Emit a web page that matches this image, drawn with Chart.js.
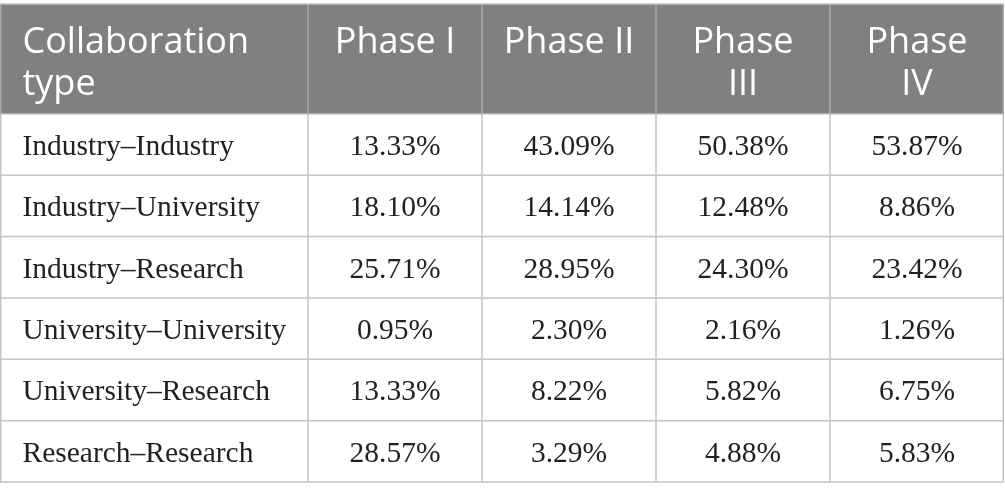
<!DOCTYPE html>
<html>
<head>
<meta charset="utf-8">
<script src="https://cdn.jsdelivr.net/npm/chart.js@4"></script>
<style>
  html, body { margin: 0; padding: 0; background: #fff; }
  canvas { display: block; }
</style>
</head>
<body>
<canvas id="tableChart" width="1005" height="501"></canvas>
<script>
const headers = [["Collaboration", "type"], ["Phase I"], ["Phase II"], ["Phase", "III"], ["Phase", "IV"]];
const collabTypes = [
  "Industry–Industry",
  "Industry–University",
  "Industry–Research",
  "University–University",
  "University–Research",
  "Research–Research"
];
const phase1 = [13.33, 18.10, 25.71, 0.95, 13.33, 28.57];
const phase2 = [43.09, 14.14, 28.95, 2.30, 8.22, 3.29];
const phase3 = [50.38, 12.48, 24.30, 2.16, 5.82, 4.88];
const phase4 = [53.87, 8.86, 23.42, 1.26, 6.75, 5.83];

const phases = [phase1, phase2, phase3, phase4];

// layout: first column is wider, header row is taller
const colWeights = [1.77, 1, 1, 1, 1];
const headerHeight = 1.79;

const colEdges = [0];
colWeights.forEach(w => colEdges.push(colEdges[colEdges.length - 1] + w));
const rowEdges = [0, headerHeight];
collabTypes.forEach(() => rowEdges.push(rowEdges[rowEdges.length - 1] + 1));
const totalW = colEdges[colEdges.length - 1];
const totalH = rowEdges[rowEdges.length - 1];

// one point per body cell, text is drawn at the point's position
const cells = [];
collabTypes.forEach((name, r) => {
  const yc = (rowEdges[r + 1] + rowEdges[r + 2]) / 2;
  cells.push({ x: (colEdges[0] + colEdges[1]) / 2, y: yc, text: name, col: 0 });
  phases.forEach((vals, c) => {
    cells.push({ x: (colEdges[c + 1] + colEdges[c + 2]) / 2, y: yc, text: vals[r].toFixed(2) + "%", col: c + 1 });
  });
});
const headCells = headers.map((lines, c) => ({ x: (colEdges[c] + colEdges[c + 1]) / 2, y: 0, lines: lines, col: c }));

const tablePlugin = {
  id: "tablePlugin",
  beforeDatasetsDraw(chart) {
    const c = chart.ctx;
    const xs = chart.scales.x;
    const ys = chart.scales.y;
    const left = xs.getPixelForValue(0);
    const right = xs.getPixelForValue(totalW);
    const top = ys.getPixelForValue(0);
    const hBottom = ys.getPixelForValue(headerHeight);
    const bottom = ys.getPixelForValue(totalH);

    c.save();
    c.fillStyle = "#808080";
    c.fillRect(left, top, right - left, hBottom - top);

    c.lineWidth = 1.5;
    // vertical lines in header
    c.strokeStyle = "#a8a8a8";
    colEdges.forEach(e => {
      const px = Math.min(Math.max(xs.getPixelForValue(e), left + 0.75), right - 0.75);
      c.beginPath();
      c.moveTo(px, top);
      c.lineTo(px, hBottom);
      c.stroke();
    });
    // body grid
    c.strokeStyle = "#c4c4c4";
    colEdges.forEach(e => {
      const px = Math.min(Math.max(xs.getPixelForValue(e), left + 0.75), right - 0.75);
      c.beginPath();
      c.moveTo(px, hBottom);
      c.lineTo(px, bottom);
      c.stroke();
    });
    rowEdges.forEach((e, i) => {
      const py = ys.getPixelForValue(e);
      c.strokeStyle = i === 1 ? "#b0b0b0" : "#c4c4c4";
      c.beginPath();
      c.moveTo(left, py);
      c.lineTo(right, py);
      c.stroke();
    });
    c.restore();
  },
  afterDatasetsDraw(chart) {
    const c = chart.ctx;
    const xs = chart.scales.x;
    const ys = chart.scales.y;
    c.save();
    c.textBaseline = "alphabetic";

    // header labels
    const hTop = ys.getPixelForValue(0);
    c.fillStyle = "#ffffff";
    c.font = "36px 'Open Sans'";
    headCells.forEach(h => {
      h.lines.forEach((line, i) => {
        const py = hTop + 49 + i * 41.5;
        if (h.col === 0) {
          c.textAlign = "left";
          c.fillText(line, xs.getPixelForValue(colEdges[0]) + 22.5, py);
        } else {
          c.textAlign = "center";
          c.fillText(line, xs.getPixelForValue(h.x), py);
        }
      });
    });

    // body cells
    c.fillStyle = "#231f20";
    c.font = "29.5px 'Liberation Serif'";
    const meta = chart.getDatasetMeta(0);
    meta.data.forEach((pt, i) => {
      const cell = cells[i];
      const py = pt.y + 10.5;
      if (cell.col === 0) {
        c.textAlign = "left";
        c.fillText(cell.text, xs.getPixelForValue(colEdges[0]) + 22.5, py);
      } else {
        c.textAlign = "center";
        c.fillText(cell.text, pt.x, py);
      }
    });
    c.restore();
  }
};

new Chart(document.getElementById("tableChart").getContext("2d"), {
  type: "scatter",
  data: {
    datasets: [{
      data: cells.map(d => ({ x: d.x, y: d.y })),
      pointRadius: 0,
      pointHoverRadius: 0
    }]
  },
  options: {
    responsive: false,
    animation: false,
    events: [],
    layout: { padding: { top: 4, left: 0, right: 1, bottom: 19 } },
    plugins: { legend: { display: false }, tooltip: { enabled: false } },
    scales: {
      x: { type: "linear", min: 0, max: totalW, display: false },
      y: { type: "linear", min: 0, max: totalH, reverse: true, display: false }
    }
  },
  plugins: [tablePlugin]
});
</script>
</body>
</html>
